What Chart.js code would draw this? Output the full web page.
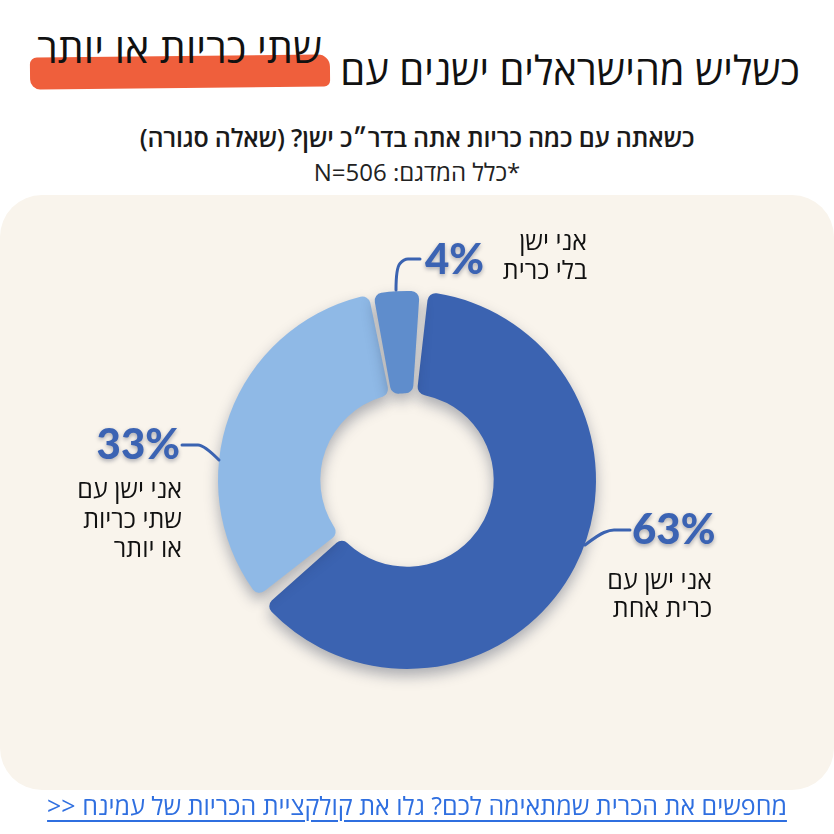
<!DOCTYPE html>
<html lang="he"><head><meta charset="utf-8">
<script src="https://cdn.jsdelivr.net/npm/chart.js@4.4.1/dist/chart.umd.min.js"></script>
<style>
html,body{margin:0;padding:0;width:834px;height:834px;background:#fff;overflow:hidden;font-family:"Open Sans","Liberation Sans",sans-serif;}
#panel{position:absolute;left:0;top:195px;width:834px;height:595px;background:#f9f4ec;border-radius:42px;}
#wrap{position:absolute;left:0;top:0;width:834px;height:834px;}
.t{position:absolute;direction:rtl;white-space:nowrap;line-height:1;}
#title{right:34px;top:50px;font-size:40px;color:#111;}
#bar{position:absolute;left:30px;top:56px;width:300px;height:32px;background:#ef5f3c;border-radius:7px 12px 6px 10px;transform:rotate(-0.6deg);}
#hl{right:512px;top:27px;font-size:41px;color:#111;}
#sub{left:0;width:834px;text-align:center;top:125px;font-size:25px;font-weight:600;color:#1a1a1a;letter-spacing:-0.2px;}
#n{left:0;width:834px;text-align:center;top:160px;font-size:24px;color:#222;}
#link{left:0;width:834px;text-align:center;top:793px;font-size:25px;}
#link a{color:#2f6fe0;text-decoration:underline;text-underline-offset:5px;text-decoration-thickness:2px;}
</style></head>
<body>
<div id="panel"></div>
<div id="bar"></div>
<div class="t" id="hl">שתי כריות או יותר</div>
<div class="t" id="title">כשליש מהישראלים ישנים עם</div>
<div class="t" id="sub">כשאתה עם כמה כריות אתה בדר״כ ישן? (שאלה סגורה)</div>
<div class="t" id="n">*כלל המדגם: N=506</div>
<div id="wrap"><canvas id="c" width="834" height="834"></canvas></div>
<div class="t" id="link"><a href="#">מחפשים את הכרית שמתאימה לכם? גלו את קולקציית הכריות של עמינח &lt;&lt;</a></div>
<script>
const categories = ['אני ישן עם כרית אחת', 'אני ישן עם שתי כריות או יותר', 'אני ישן בלי כרית'];
const values = [63, 33, 4];
const labelLines = [['אני ישן עם', 'כרית אחת'], ['אני ישן עם', 'שתי כריות', 'או יותר'], ['אני ישן', 'בלי כרית']];
const segmentColors = ['#3b63b1', '#8fb9e6', '#5f8dcc'];

// label layout (style only): offsets from chart centre
const labelLayout = [
  {leader: [[178, 65], [191, 55], [203, 50], [223, 50]], pct: [225, 50, 'left'], lines: [305, 102, 28]},
  {leader: [[-188, -20], [-207, -35], [-225, -35]], pct: [-227, -35, 'right'], lines: [-225, 11, 29.5]},
  {leader: [[-11, -190], [-11, -212], [-3, -221], [13, -221]], pct: [18, -220, 'left'], lines: [180, -237, 29]}
];

const shadowPlugin = {
  id: 'shadow',
  beforeDatasetDraw(chart) {
    const ctx = chart.ctx; ctx.save();
    ctx.shadowColor = 'rgba(30,40,70,0.35)'; ctx.shadowBlur = 14; ctx.shadowOffsetY = 7;
  },
  afterDatasetDraw(chart) { chart.ctx.restore(); }
};

const labelPlugin = {
  id: 'labels',
  afterDraw(chart) {
    const ctx = chart.ctx;
    const arc0 = chart.getDatasetMeta(0).data[0];
    const cx = arc0.x, cy = arc0.y;
    chart.data.datasets[0].data.forEach((v, i) => {
      const L = labelLayout[i];
      ctx.save();
      ctx.strokeStyle = '#3b63b1'; ctx.lineWidth = 3; ctx.lineCap = 'round'; ctx.lineJoin = 'round';
      ctx.beginPath();
      const p = L.leader.map(q => [cx + q[0], cy + q[1]]);
      ctx.moveTo(p[0][0], p[0][1]);
      if (p.length === 4) {
        ctx.quadraticCurveTo(p[1][0], p[1][1], (p[1][0] + p[2][0]) / 2, (p[1][1] + p[2][1]) / 2);
        ctx.quadraticCurveTo(p[2][0], p[2][1], p[2][0] + 4, p[2][1]);
        ctx.lineTo(p[3][0], p[3][1]);
      } else {
        ctx.quadraticCurveTo(p[1][0] + 4, p[1][1], p[1][0] - 2, p[1][1]);
        ctx.lineTo(p[2][0], p[2][1]);
      }
      ctx.stroke();
      ctx.shadowColor = 'rgba(20,30,60,0.35)'; ctx.shadowBlur = 4; ctx.shadowOffsetY = 2;
      ctx.fillStyle = '#3b63b3';
      ctx.font = '900 42px Lato, "Open Sans", sans-serif';
      ctx.textAlign = L.pct[2]; ctx.textBaseline = 'middle';
      ctx.fillText(v + '%', cx + L.pct[0], cy + L.pct[1]);
      ctx.restore();
      ctx.save();
      ctx.fillStyle = '#111';
      ctx.font = '25px "Open Sans", "Liberation Sans", sans-serif';
      ctx.direction = 'rtl'; ctx.textAlign = 'right'; ctx.textBaseline = 'middle';
      labelLines[i].forEach((s, k) => ctx.fillText(s, cx + L.lines[0], cy + L.lines[1] + k * L.lines[2]));
      ctx.restore();
    });
  }
};

new Chart(document.getElementById('c'), {
  type: 'doughnut',
  data: {labels: categories, datasets: [{data: values, backgroundColor: segmentColors, borderWidth: 0, borderRadius: 8, spacing: 6}]},
  options: {
    responsive: false, animation: false, cutout: '45%', rotation: 4,
    layout: {padding: {left: 218, right: 238, top: 291, bottom: 165}},
    plugins: {legend: {display: false}, tooltip: {enabled: false}, title: {display: false}}
  },
  plugins: [shadowPlugin, labelPlugin]
});
</script>
</body></html>
